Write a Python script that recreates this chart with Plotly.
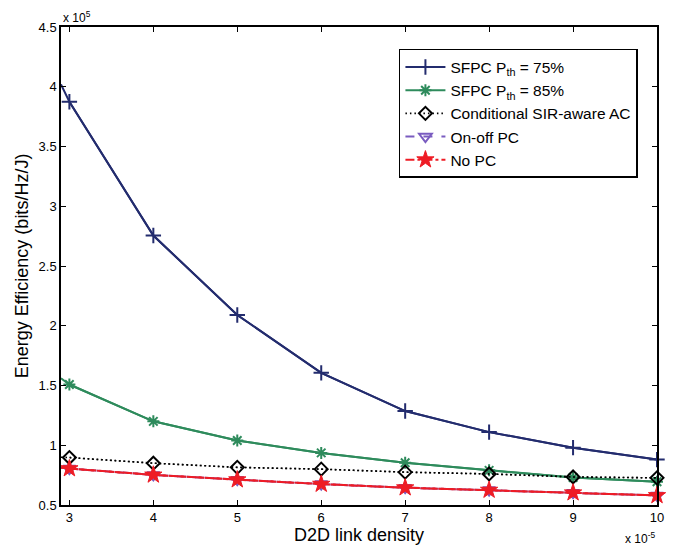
import plotly.graph_objects as go

# Data (x in units of 1e-5, y in units of 1e5)
x_edge = 2.9
x_vals = [3, 4, 5, 6, 7, 8, 9, 10]

sfpc75_edge = 4.02
sfpc75 = [3.875, 2.755, 2.09, 1.606, 1.286, 1.11, 0.98, 0.88]

sfpc85_edge = 1.56
sfpc85 = [1.508, 1.2, 1.04, 0.936, 0.853, 0.79, 0.73, 0.694]

cond_edge = 0.9
cond = [0.897, 0.85, 0.815, 0.80, 0.775, 0.76, 0.735, 0.727]

onoff_edge = 0.812
onoff = [0.805, 0.752, 0.712, 0.675, 0.645, 0.625, 0.603, 0.58]

nopc_edge = 0.812
nopc = [0.805, 0.752, 0.712, 0.675, 0.645, 0.625, 0.603, 0.58]

names = ["SFPC P<sub>th</sub> = 75%", "SFPC P<sub>th</sub> = 85%",
         "Conditional SIR-aware AC", "On-off PC", "No PC"]

x_ticks = [3, 4, 5, 6, 7, 8, 9, 10]
y_ticks = [0.5, 1, 1.5, 2, 2.5, 3, 3.5, 4, 4.5]
y_tick_text = ["0.5", "1", "1.5", "2", "2.5", "3", "3.5", "4", "4.5"]

FONT = "Liberation Sans, Arial, sans-serif"

series = [
    (names[0], sfpc75_edge, sfpc75, "#232c6e", "solid", 2,
     dict(symbol="cross-thin", size=11, line=dict(color="#232c6e", width=2))),
    (names[1], sfpc85_edge, sfpc85, "#2e8b5c", "solid", 2,
     dict(symbol="asterisk", size=10, line=dict(color="#2e8b5c", width=2))),
    (names[2], cond_edge, cond, "#000000", "1.5px,3px", 1.6,
     dict(symbol="diamond-open", size=10, color="#000000", line=dict(color="#000000", width=2))),
    (names[3], onoff_edge, onoff, "#7a5cc0", "dash", 2,
     dict(symbol="triangle-down-open", size=11, color="#7a5cc0", line=dict(color="#7a5cc0", width=2))),
    (names[4], nopc_edge, nopc, "#ee1c25", "dashdot", 2,
     dict(symbol="star", size=13, color="#ee1c25", line=dict(color="#ee1c25", width=1))),
]

fig = go.Figure()
for name, e, ys, col, dash, lw, mk in series:
    fig.add_trace(go.Scatter(
        x=[x_edge] + x_vals, y=[e] + ys, mode="lines",
        line=dict(color=col, width=lw, dash=dash),
        showlegend=False, hoverinfo="skip", cliponaxis=True))
    fig.add_trace(go.Scatter(
        x=x_vals, y=ys, mode="lines+markers", name=name,
        line=dict(color=col, width=lw, dash=dash), marker=mk,
        cliponaxis=False))

axis_common = dict(
    showline=True, linecolor="black", linewidth=1.5, mirror="ticks",
    ticks="inside", ticklen=5, tickcolor="black", tickwidth=1,
    showgrid=False, zeroline=False, automargin=False,
    tickfont=dict(family=FONT, size=13, color="black"),
)

# page body has an 8px default margin; margins compensate so the plot lands where the reference has it
fig.update_layout(
    width=676, height=550,
    margin=dict(l=53, r=27, t=19, b=53),
    paper_bgcolor="white", plot_bgcolor="white",
    font=dict(family=FONT, color="black"),
    xaxis=dict(range=[2.9, 10], tickvals=x_ticks,
               title=dict(text="D2D link density", font=dict(size=18, family=FONT), standoff=3),
               **axis_common),
    yaxis=dict(range=[0.5, 4.5], tickvals=y_ticks, ticktext=y_tick_text,
               title=dict(text="Energy Efficiency (bits/Hz/J)", font=dict(size=18, family=FONT), standoff=5),
               **axis_common),
    legend=dict(x=0.968, y=0.954, xanchor="right", yanchor="top",
                bgcolor="white", bordercolor="black", borderwidth=1.5,
                font=dict(family=FONT, size=15.5, color="black"),
                tracegroupgap=0, itemwidth=40),
    annotations=[
        dict(text="x 10<sup>5</sup>", x=0, y=1, xref="paper", yref="paper",
             xanchor="left", yanchor="bottom", showarrow=False,
             font=dict(family=FONT, size=12), yshift=0),
        dict(text="x 10<sup>-5</sup>", x=1, y=0, xref="paper", yref="paper",
             xanchor="right", yanchor="top", showarrow=False,
             font=dict(family=FONT, size=12), yshift=-23),
    ],
)

fig.write_html("out.html")
